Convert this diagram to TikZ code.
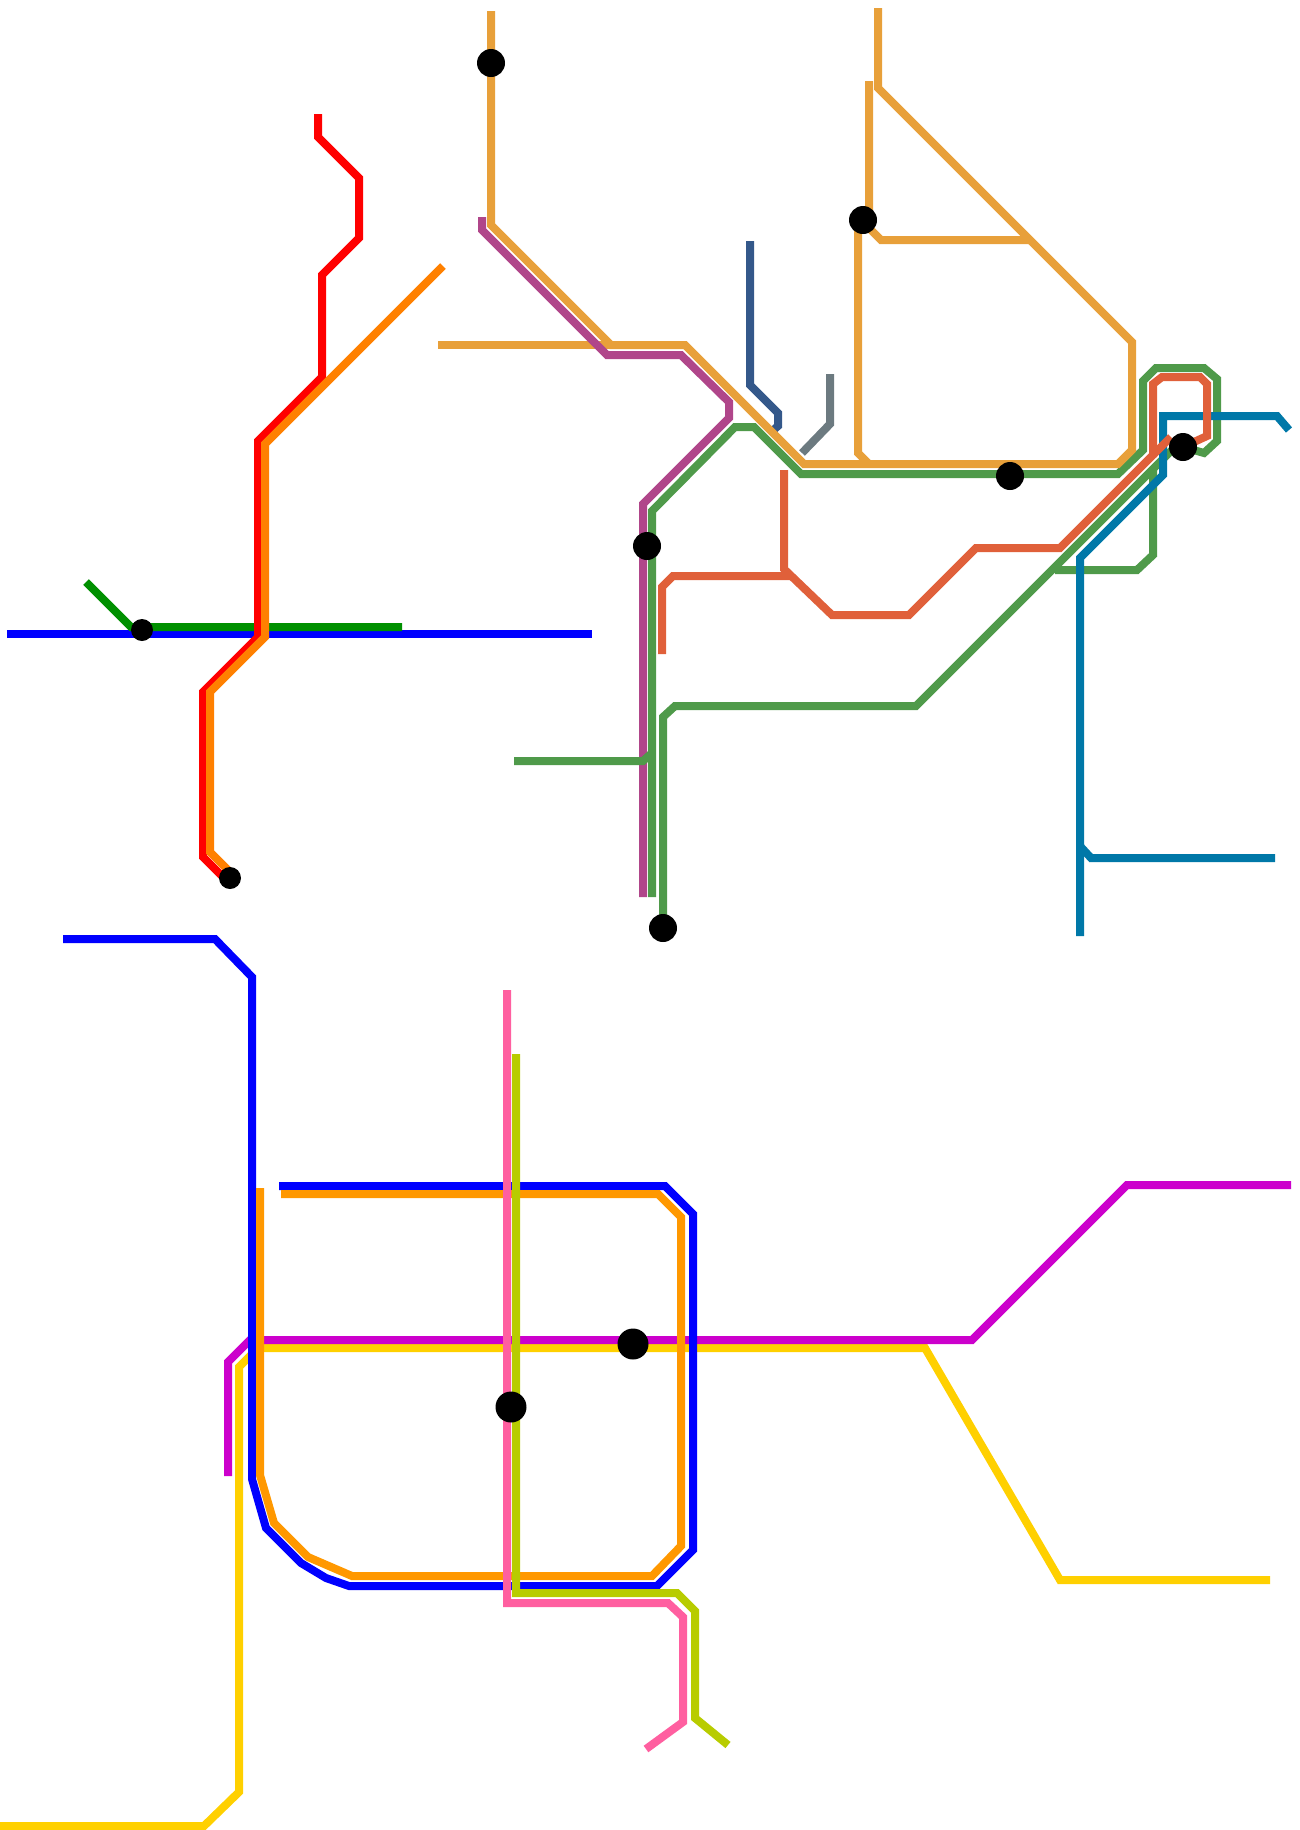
\documentclass[tikz,border=0pt]{standalone}
\usepackage{tikz}
\definecolor{LineBlue}{RGB}{0, 0, 255}
\definecolor{LineRed}{RGB}{255, 0, 0}
\definecolor{LineOrange}{RGB}{255, 128, 0}
\definecolor{LineDeepGreen}{RGB}{0, 144, 0}
\definecolor{LineTan}{RGB}{232, 160, 58}
\definecolor{LinePlum}{RGB}{176, 70, 138}
\definecolor{LineGreen}{RGB}{79, 154, 74}
\definecolor{LineCoral}{RGB}{224, 96, 58}
\definecolor{LineNavy}{RGB}{52, 88, 138}
\definecolor{LineSlate}{RGB}{108, 122, 128}
\definecolor{LineTeal}{RGB}{0, 120, 168}
\definecolor{LineAmber}{RGB}{255, 152, 0}
\definecolor{LineMagenta}{RGB}{204, 0, 204}
\definecolor{LineYellow}{RGB}{255, 208, 0}
\definecolor{LinePink}{RGB}{255, 95, 160}
\definecolor{LineLime}{RGB}{184, 204, 0}

\begin{document}
\begin{tikzpicture}[x=0.02cm, y=-0.02cm,
    route/.style={line width=0.16cm},
    stn/.style={circle, fill=black, inner sep=0pt, minimum size=0.56cm},
    stnsmall/.style={stn, minimum size=0.44cm},
    stnbig/.style={stn, minimum size=0.62cm}]
    \useasboundingbox (0,0) rectangle (1300,1830);
    \coordinate (c1) at (142,630);
    \coordinate (c2) at (230,878);
    \coordinate (c3) at (663,928);
    \coordinate (c4) at (1183,447);
    % Upper left
    \draw[route, LineBlue] (7,634) -- (592,634);
    \draw[route, LineDeepGreen] (86,582) -- (131,627) -- (402,627);
    \draw[route, LineRed] (318,114) -- (318,137) -- (359,178) -- (359,238) -- (322,275) -- (322,377) -- (258,441) -- (258,637) -- (203,692) -- (203,857) -- (226,880);
    \draw[route, LineOrange] (443,266) -- (265,444) -- (265,637) -- (210,692) -- (210,852) -- (232,874);
    % Upper middle
    \draw[route, LineNavy] (750,241) -- (750,385) -- (778,413) -- (778,426) -- (770,433);
    \draw[route, LineSlate] (830,374) -- (830,424) -- (802,453);
    \draw[route, LineTan] (438,345) -- (610,345);
    \draw[route, LinePlum] (482,217) -- (482,230) -- (607,355) -- (681,355) -- (729,402) -- (729,418) -- (643,504) -- (643,897);
    \draw[route, LineGreen] (514,761) -- (643,761) -- (652,753);
    \draw[route, LineGreen] (652,897) -- (652,511) -- (735,427) -- (754,427) -- (801,474) -- (1118,474) -- (1143,450) -- (1143,381) -- (1156,368) -- (1204,368) -- (1217,379) -- (1217,441) -- (1204,453) -- (c4);
    \draw[route, LineGreen] (c3) -- (663,717) -- (675,706) -- (916,706) -- (1175,447);
    \draw[route, LineGreen] (1055,570) -- (1137,570) -- (1153,555) -- (1153,470);
    \draw[route, LineTeal] (1289,430) -- (1277,416) -- (1163,416) -- (1163,475) -- (1080,558) -- (1080,936);
    \draw[route, LineTeal] (1080,846) -- (1091,858) -- (1275,858);
    \draw[route, LineTan] (491,11) -- (491,225) -- (611,345) -- (685,345) -- (804,464) -- (1118,464) -- (1132,450) -- (1132,342) -- (878,88) -- (878,8);
    \draw[route, LineTan] (869,81) -- (869,228) -- (881,240) -- (1030,240);
    \draw[route, LineTan] (858,228) -- (858,453) -- (869,464);
    \draw[route, LineCoral] (784,470) -- (784,569) -- (832,615) -- (909,615) -- (976,548) -- (1060,548) -- (1153,455) -- (1153,384) -- (1162,377) -- (1200,377) -- (1207,384) -- (1207,436) -- (c4);
    \draw[route, LineCoral] (1153,455) -- (1171,437);
    \draw[route, LineCoral] (662,654) -- (662,587) -- (673,576) -- (792,576);
    % Lower section
    \draw[route, LineYellow] (0,1826) -- (204,1826) -- (239,1792) -- (239,1367) -- (258,1348) -- (925,1348) -- (1060,1580) -- (1270,1580);
    \draw[route, LineMagenta] (228,1476) -- (228,1362) -- (250,1340) -- (972,1340) -- (1127,1185) -- (1291,1185);
    \draw[route, LineBlue] (63,939) -- (215,939) -- (252,977) -- (252,1479) -- (266,1528) -- (301,1563) -- (326,1578) -- (349,1586) -- (657,1586) -- (693,1550) -- (693,1214) -- (665,1186) -- (279,1186);
    \draw[route, LineAmber] (260,1188) -- (260,1475) -- (274,1523) -- (308,1557) -- (352,1576) -- (652,1576) -- (681,1546) -- (681,1217) -- (658,1194) -- (281,1194);
    \draw[route, LinePink] (507,990) -- (507,1603) -- (668,1603) -- (683,1617) -- (683,1722) -- (646,1749);
    \draw[route, LineLime] (516,1054) -- (516,1593) -- (677,1593) -- (695,1611) -- (695,1718) -- (728,1745);
    % Stations
    \node[stnsmall] (s1) at (c1) {};
    \node[stnsmall] (s2) at (c2) {};
    \node[stn] (s3) at (c3) {};
    \node[stn] (s4) at (c4) {};
    \node[stn] (s5) at (491,63) {};
    \node[stn] (s6) at (863,220) {};
    \node[stn] (s7) at (647,546) {};
    \node[stn] (s8) at (1010,476) {};
    \node[stnbig] (s9) at (511,1407) {};
    \node[stnbig] (s10) at (633,1344) {};
\end{tikzpicture}
\end{document}
